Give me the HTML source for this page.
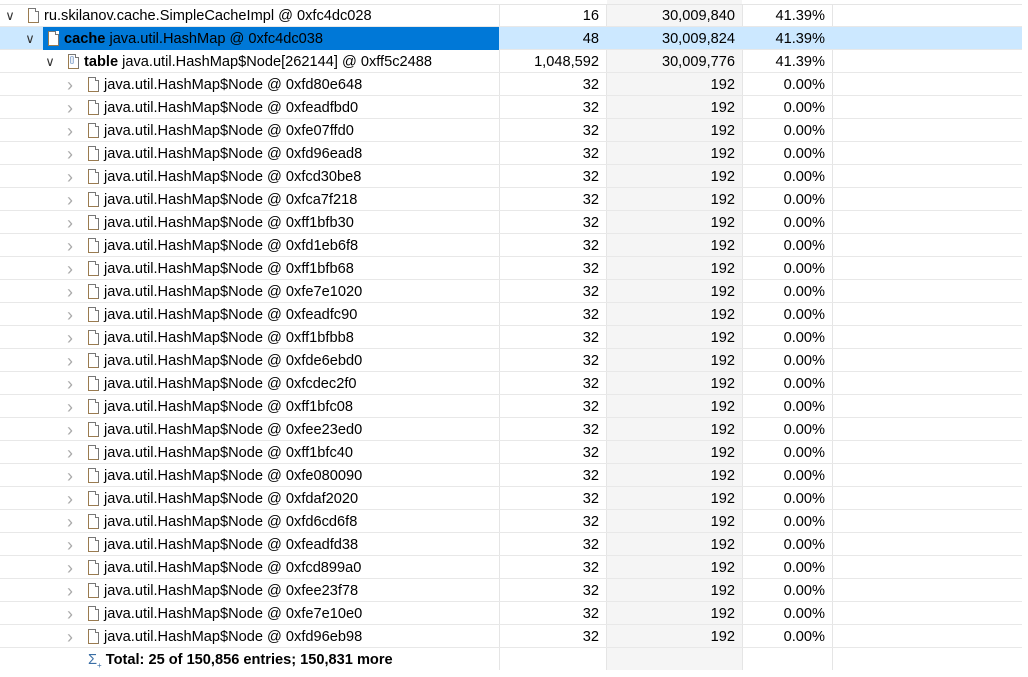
<!DOCTYPE html>
<html><head><meta charset="utf-8">
<style>
html,body{margin:0;padding:0;background:#fff;width:1028px;height:670px;overflow:hidden;font-family:"Liberation Sans",Arial,sans-serif;font-size:14.6px;color:#000}
.row{position:absolute;left:0;width:1022px;height:23px;border-bottom:1px solid #e8e8e8;box-sizing:border-box}
.c{position:absolute;top:1px;height:23px;line-height:23px;white-space:nowrap}
.num{text-align:right}
.vl{position:absolute;top:4px;bottom:0;width:1px;background:#e5e5e5}
.shade{position:absolute;left:607px;width:135px;top:0;bottom:0;background:#f5f5f5}
.chev{position:absolute;top:1px;width:10px;height:23px;line-height:22px;font-size:13px;text-align:center}
.icon{position:absolute;top:4px;width:9px;height:13px;border:1px solid #9a7b4f;border-top-color:#777;border-right-color:#777;background:#fff}
.icon:after{content:"";position:absolute;right:-1px;top:-1px;width:3px;height:3px;background:#fff;border-left:1px solid #777;border-bottom:1px solid #777}
</style></head><body>
<div class="shade"></div>
<div style="position:absolute;left:0;top:4px;width:1022px;height:1px;background:#e5e5e5"></div>
<div class="vl" style="left:499px"></div>
<div class="vl" style="left:606px"></div>
<div class="vl" style="left:742px"></div>
<div class="vl" style="left:832px"></div>
<div id="tree"></div>
<script>
const nodeAddrs=["0xfd80e648","0xfeadfbd0","0xfe07ffd0","0xfd96ead8","0xfcd30be8","0xfca7f218","0xff1bfb30","0xfd1eb6f8","0xff1bfb68","0xfe7e1020","0xfeadfc90","0xff1bfbb8","0xfde6ebd0","0xfcdec2f0","0xff1bfc08","0xfee23ed0","0xff1bfc40","0xfe080090","0xfdaf2020","0xfd6cd6f8","0xfeadfd38","0xfcd899a0","0xfee23f78","0xfe7e10e0","0xfd96eb98"];
const tree=document.getElementById('tree');
let y=4;
function addRow(level,bold,label,shallow,retained,pct,open,selected,arr){
  const r=document.createElement('div');
  r.className='row';
  
  
  r.style.top=y+'px';
  if(selected){r.style.background='#cce8ff';}
  const cx=5+level*20, ix=28+level*20, tx=44+level*20;
  if(selected){const b=document.createElement('div');b.style.cssText='position:absolute;left:'+(ix-5)+'px;top:0;width:'+(499-ix+5)+'px;height:23px;background:#0078d7';r.appendChild(b);}
  const ch=document.createElement('div');ch.className='chev';
  
  
  ch.style.left=cx+'px';
  ch.style.color=open?'#333':'#aaa';
  ch.textContent=open?'\u2228':'\u203A';
  if(!open){ch.style.fontSize='18px';}
  r.appendChild(ch);
  const ic=document.createElement('div');ic.className='icon';
  
  
  ic.style.left=ix+'px';
  if(arr){ic.innerHTML='<span style="position:absolute;left:1px;top:2px;font-size:7px;line-height:7px;color:#36a">[]</span>';}
  r.appendChild(ic);
  const t=document.createElement('div');t.className='c';
  
  
  t.style.left=tx+'px';
  t.innerHTML=(bold?'<b>'+bold+'</b> ':'')+label;
  r.appendChild(t);
  [[shallow,499,606,'shallow-heap'],[retained,606,742,'retained-heap'],[pct,742,832,'percentage']].forEach(function(v){
    const d=document.createElement('div');d.className='c num';
    
    
    d.style.left=v[1]+'px';d.style.width=(v[2]-v[1]-7)+'px';
    d.textContent=v[0];r.appendChild(d);
  });
  tree.appendChild(r);
  y+=23;
}
addRow(0,'','ru.skilanov.cache.SimpleCacheImpl @ 0xfc4dc028','16','30,009,840','41.39%',true,false,false);
addRow(1,'cache','java.util.HashMap @ 0xfc4dc038','48','30,009,824','41.39%',true,true,false);
addRow(2,'table','java.util.HashMap$Node[262144] @ 0xff5c2488','1,048,592','30,009,776','41.39%',true,false,true);
nodeAddrs.forEach(function(a){addRow(3,'','java.util.HashMap$Node @ '+a,'32','192','0.00%',false,false,false);});
const tot=document.createElement('div');


tot.style.cssText='position:absolute;left:88px;top:'+(y+1)+'px;height:23px;line-height:23px;font-weight:bold;white-space:nowrap';
tot.innerHTML='<span style="color:#3a6ea5;font-weight:normal">&Sigma;<sub style="font-size:8px">+</sub></span> Total: 25 of 150,856 entries; 150,831 more';
document.body.appendChild(tot);
</script>
</body></html>
